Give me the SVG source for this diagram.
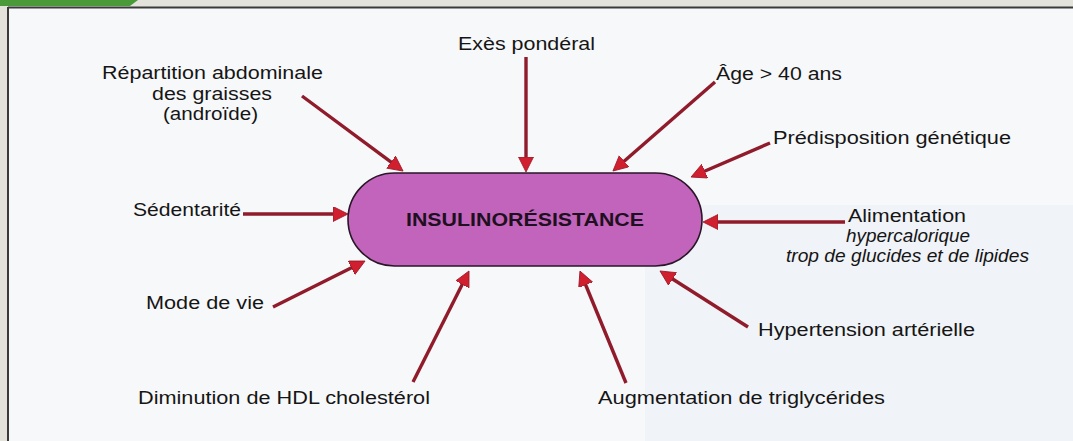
<svg xmlns="http://www.w3.org/2000/svg" width="1073" height="441" viewBox="0 0 1073 441">
<style>
.lbl{font-family:"Liberation Sans",Arial,sans-serif;font-size:17.5px;fill:#151515}
.it{font-style:italic}
.title{font-family:"Liberation Sans",Arial,sans-serif;font-size:17.5px;font-weight:bold;fill:#1e1020}
.arr{stroke:#8f1b2b;stroke-width:3.4;fill:none;marker-end:url(#head)}
</style>
<defs>
<marker id="head" markerUnits="userSpaceOnUse" markerWidth="18" markerHeight="18" refX="1" refY="7.5" orient="auto" viewBox="0 0 18 18">
<path d="M0,0 L15,7.5 L0,15 Z" fill="#d0202f" stroke="#9a1626" stroke-width="0.8"/>
</marker>
</defs>
<rect x="0" y="0" width="1073" height="441" fill="#e3e3dc"/>
<path d="M0,0 H138 L130,6 H0 Z" fill="#4a9a3a"/>
<rect x="8" y="7.5" width="1065" height="433.5" fill="#f7f8fa"/>
<rect x="645" y="205" width="428" height="236" fill="#f0f3f7"/>
<line x1="8" y1="7.5" x2="1073" y2="7.5" stroke="#3a3a3a" stroke-width="2"/>
<line x1="8" y1="7" x2="8" y2="441" stroke="#3a3a3a" stroke-width="2"/>

<g id="connectors">
<line class="arr" x1="302" y1="96" x2="391.8" y2="162.7"/>
<line class="arr" x1="526" y1="57" x2="526" y2="158"/>
<line class="arr" x1="715" y1="82" x2="623.5" y2="161.8"/>
<line class="arr" x1="770" y1="143" x2="703.9" y2="171.5"/>
<line class="arr" x1="243" y1="214" x2="334" y2="214"/>
<line class="arr" x1="845" y1="222" x2="717" y2="222"/>
<line class="arr" x1="273" y1="307" x2="352.5" y2="267.3"/>
<line class="arr" x1="413" y1="382" x2="462.7" y2="283.5"/>
<line class="arr" x1="626" y1="383" x2="585.3" y2="284"/>
<line class="arr" x1="748" y1="327" x2="671.8" y2="278.5"/>
</g>

<g id="insulinoresistance">
<rect x="348" y="173" width="354" height="93" rx="46.5" ry="46.5" fill="#c264bb" stroke="#2a1628" stroke-width="1.6"/>
<text class="title" x="406" y="225.5" textLength="238" lengthAdjust="spacingAndGlyphs">INSULINORÉSISTANCE</text>
</g>

<g id="exces-ponderal"><text class="lbl" x="458" y="50" textLength="137" lengthAdjust="spacingAndGlyphs">Exès pondéral</text></g>
<g id="repartition">
<text class="lbl" x="102" y="79" textLength="221" lengthAdjust="spacingAndGlyphs">Répartition abdominale</text>
<text class="lbl" x="152" y="99.5" textLength="120" lengthAdjust="spacingAndGlyphs">des graisses</text>
<text class="lbl" x="163" y="120" textLength="95" lengthAdjust="spacingAndGlyphs">(androïde)</text>
</g>
<g id="age"><text class="lbl" x="716" y="80" textLength="126" lengthAdjust="spacingAndGlyphs">Âge &gt; 40 ans</text></g>
<g id="predisposition"><text class="lbl" x="773" y="144" textLength="238" lengthAdjust="spacingAndGlyphs">Prédisposition génétique</text></g>
<g id="sedentarite"><text class="lbl" x="133" y="216" textLength="108" lengthAdjust="spacingAndGlyphs">Sédentarité</text></g>
<g id="alimentation">
<text class="lbl" x="848" y="222" textLength="118" lengthAdjust="spacingAndGlyphs">Alimentation</text>
<text class="lbl it" x="846" y="241.5" textLength="124" lengthAdjust="spacingAndGlyphs">hypercalorique</text>
<text class="lbl it" x="786" y="261.5" textLength="243" lengthAdjust="spacingAndGlyphs">trop de glucides et de lipides</text>
</g>
<g id="mode-de-vie"><text class="lbl" x="146" y="309" textLength="118" lengthAdjust="spacingAndGlyphs">Mode de vie</text></g>
<g id="hypertension"><text class="lbl" x="758" y="335.5" textLength="217" lengthAdjust="spacingAndGlyphs">Hypertension artérielle</text></g>
<g id="hdl"><text class="lbl" x="138" y="403.5" textLength="292" lengthAdjust="spacingAndGlyphs">Diminution de HDL cholestérol</text></g>
<g id="triglycerides"><text class="lbl" x="598" y="403.5" textLength="287" lengthAdjust="spacingAndGlyphs">Augmentation de triglycérides</text></g>
</svg>
